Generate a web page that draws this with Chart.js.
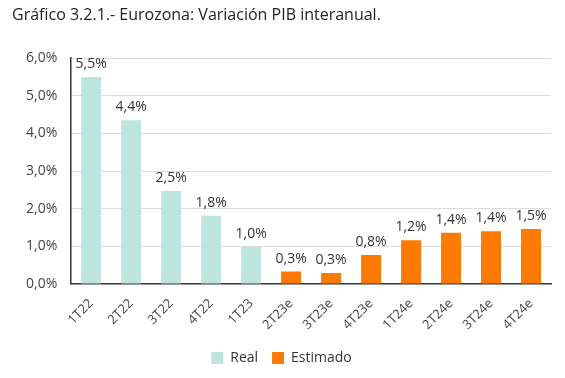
<!DOCTYPE html>
<html><head><meta charset="utf-8">
<script src="https://cdn.jsdelivr.net/npm/chart.js@4/dist/chart.umd.min.js"></script>
<style>html,body{margin:0;padding:0;background:#fff}#wrap{width:565px;height:378px}</style>
</head><body><div id="wrap"><canvas id="c" width="565" height="378"></canvas></div>
<script>
const categories = ['1T22','2T22','3T22','4T22','1T23','2T23e','3T23e','4T23e','1T24e','2T24e','3T24e','4T24e'];
const realValues = [5.5, 4.35, 2.47, 1.81, 0.98, null, null, null, null, null, null, null];
const estimadoValues = [null, null, null, null, null, 0.33, 0.29, 0.77, 1.16, 1.36, 1.40, 1.46];
const valueLabels = ['5,5%','4,4%','2,5%','1,8%','1,0%','0,3%','0,3%','0,8%','1,2%','1,4%','1,4%','1,5%'];
const yTicks = [0,1,2,3,4,5,6];

const FONT = "'Open Sans', 'Noto Sans', sans-serif";

const labelPlugin = {
  id: 'barLabels',
  afterDatasetsDraw(chart) {
    const ctx = chart.ctx;
    ctx.save();
    ctx.font = '14px ' + FONT;
    ctx.fillStyle = '#333';
    ctx.textAlign = 'center';
    ctx.textBaseline = 'bottom';
    chart.data.datasets.forEach((ds, di) => {
      const meta = chart.getDatasetMeta(di);
      meta.data.forEach((bar, i) => {
        if (ds.data[i] == null) return;
        ctx.fillText(valueLabels[i], bar.x, bar.y - 6);
      });
    });
    ctx.restore();
  }
};

new Chart(document.getElementById('c'), {
  type: 'bar',
  data: {
    labels: categories,
    datasets: [
      { label: 'Real', data: realValues, backgroundColor: '#bde5de', grouped: false, barPercentage: 0.5, categoryPercentage: 1 },
      { label: 'Estimado', data: estimadoValues, backgroundColor: '#ff7a00', grouped: false, barPercentage: 0.5, categoryPercentage: 1 }
    ]
  },
  options: {
    responsive: false,
    animation: false,
    layout: { padding: { left: 12, right: 14, top: 0, bottom: 3 } },
    plugins: {
      title: { display: true, text: 'Gráfico 3.2.1.- Eurozona: Variación PIB interanual.', align: 'start', color: '#222', font: { family: FONT, size: 16, weight: 'normal' }, padding: { top: 6, bottom: 33 } },
      legend: { position: 'bottom', labels: { boxWidth: 12, boxHeight: 12, color: '#333', font: { family: FONT, size: 14 }, padding: 14 } },
      tooltip: { enabled: false }
    },
    scales: {
      x: {
        grid: { display: false },
        border: { color: '#333', width: 1.5 },
        ticks: { color: '#444', font: { family: FONT, size: 13 }, maxRotation: 45, minRotation: 45, padding: 4 }
      },
      y: {
        min: 0, max: 6,
        afterBuildTicks(axis) { axis.ticks = yTicks.map(v => ({ value: v })); },
        grid: { color: '#dcdcdc', drawTicks: false },
        border: { color: '#333', width: 1.5 },
        ticks: { color: '#444', font: { family: FONT, size: 14 }, padding: 14, callback: v => v.toFixed(1).replace('.', ',') + '%' }
      }
    }
  },
  plugins: [labelPlugin]
});
</script></body></html>
